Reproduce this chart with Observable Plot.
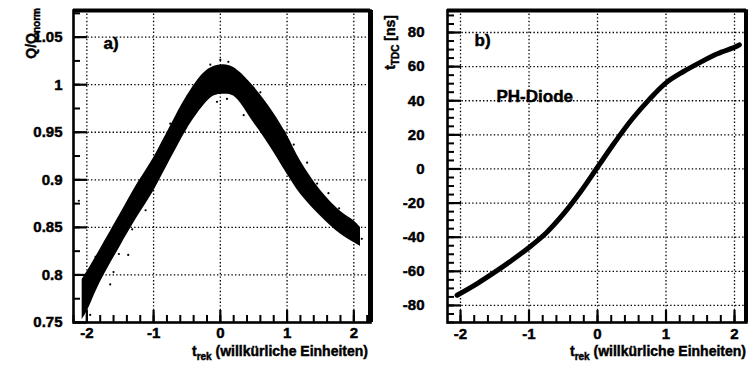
<!DOCTYPE html>
<html>
<head>
<meta charset="utf-8">
<script src="https://cdn.jsdelivr.net/npm/d3@7"></script>
<script src="https://cdn.jsdelivr.net/npm/@observablehq/plot@0.6"></script>
<style>
  body { margin: 0; background: white; }
  #wrap { display: flex; width: 748px; height: 369px; }
  svg { display: block; }
  svg text { stroke: black; stroke-width: 0.45px; }
</style>
</head>
<body>
<div id="wrap"></div>
<script>
// ---------- data: panel a) band of measured points (envelope read from picture)
const bandT     = [-2.07, -2.0, -1.8, -1.5, -1.25, -1.0, -0.75, -0.5, -0.25, -0.1, 0.05, 0.2, 0.5, 0.8, 1.0, 1.2, 1.5, 1.8, 2.0, 2.1];
const bandUpper = [0.795, 0.803, 0.827, 0.864, 0.895, 0.923, 0.956, 0.988, 1.012, 1.019, 1.021, 1.018, 0.998, 0.970, 0.947, 0.920, 0.889, 0.867, 0.857, 0.850];
const bandLower = [0.753, 0.761, 0.792, 0.830, 0.860, 0.888, 0.921, 0.953, 0.978, 0.988, 0.990, 0.988, 0.960, 0.929, 0.906, 0.885, 0.862, 0.843, 0.834, 0.830];
// scattered stray points around the band
const strayT = [-1.87, -1.65, -1.95, -1.6, -1.38, -0.75, -2.12, 2.12, 0.0, 0.12, -0.15, 0.3, 0.1, -0.05, 0.95, 1.1, 1.3, 1.45, 1.62, 1.78, -0.42, -0.92, -1.12, -1.52, -1.32, 0.6, 0.35];
const strayQ = [0.819, 0.790, 0.758, 0.803, 0.821, 0.959, 0.878, 0.838, 1.026, 1.024, 1.021, 1.011, 0.985, 0.982, 0.951, 0.937, 0.918, 0.896, 0.886, 0.870, 0.993, 0.928, 0.868, 0.822, 0.848, 0.992, 0.968];

// ---------- data: panel b) PH-Diode curve
const curveT   = [-2.05, -1.75, -1.5, -1.25, -1.0, -0.75, -0.5, -0.25, 0.0, 0.25, 0.5, 0.75, 1.0, 1.25, 1.5, 1.75, 2.0, 2.07];
const curveTdc = [-74, -67, -60.5, -53.5, -46, -37.5, -26.5, -13.5, 1, 15.5, 29, 40.5, 50.5, 57, 62.5, 67.5, 71.3, 72.8];

// ---------- tick labels
const xTicks  = [-2, -1, 0, 1, 2];
const yTicksA = [0.75, 0.8, 0.85, 0.9, 0.95, 1, 1.05];
const yTicksB = [-80, -60, -40, -20, 0, 20, 40, 60, 80];
const xMinor  = d3.range(-11, 12).map(i => +(i * 0.2).toFixed(2));
const yMinorA = d3.range(30, 44).map(i => +(i * 0.025).toFixed(3));
const yMinorB = d3.range(-18, 19).map(i => i * 5);

const band = bandT.map((t, i) => ({t, lo: bandLower[i], hi: bandUpper[i]}));
const stray = strayT.map((t, i) => ({t, q: strayQ[i]}));
const curve = curveT.map((t, i) => ({t, v: curveTdc[i]}));

const FONT = "'Liberation Sans', Arial, Helvetica, sans-serif";
const gridStyle = {stroke: "black", strokeOpacity: 1, strokeWidth: 1.3, strokeDasharray: "1.4,2.2"};
const H = 369, MT = 10, MB = 47, ML = 73;

function inwardTicks(xDom, yDom, plotW, xMaj, xMin, yMaj, yMin) {
  const plotH = H - MT - MB;
  const inX = v => v >= xDom[0] && v <= xDom[1];
  const inY = v => v >= yDom[0] && v <= yDom[1];
  return [
    Plot.tickX(xMin.filter(inX), {x: d => d, insetTop: plotH - 7, stroke: "black", strokeWidth: 2}),
    Plot.tickX(xMaj.filter(inX), {x: d => d, insetTop: plotH - 12, stroke: "black", strokeWidth: 2.2}),
    Plot.tickY(yMin.filter(inY), {y: d => d, insetRight: plotW - 7, stroke: "black", strokeWidth: 2}),
    Plot.tickY(yMaj.filter(inY), {y: d => d, insetRight: plotW - 14, stroke: "black", strokeWidth: 2.2})
  ];
}

function frameMarks(xDom, yDom) {
  return [
    Plot.frame({stroke: "black", strokeWidth: 2.6}),
    Plot.ruleY([yDom[1]], {stroke: "black", strokeWidth: 4}),
    Plot.ruleX([xDom[1]], {stroke: "black", strokeWidth: 5})
  ];
}

// ---------- panel a)
const xDomA = [-2.2, 2.25], yDomA = [0.75, 1.078];
const plotA = Plot.plot({
  width: 374, height: H,
  marginLeft: ML, marginRight: 4, marginTop: MT, marginBottom: MB,
  x: {domain: xDomA}, y: {domain: yDomA},
  style: {fontFamily: FONT, fontWeight: "bold", fontSize: "14px", color: "black", background: "white"},
  marks: [
    Plot.gridX(xTicks, gridStyle),
    Plot.gridY(yTicksA.filter(v => v > 0.75), gridStyle),
    Plot.areaY(band, {x: "t", y1: "lo", y2: "hi", fill: "black", curve: "catmull-rom"}),
    Plot.dot(stray, {x: "t", y: "q", r: 1.1, fill: "black"}),
    ...inwardTicks(xDomA, yDomA, 374 - ML - 4, xTicks, xMinor, yTicksA, yMinorA),
    Plot.axisX(xTicks, {tickSize: 0, tickPadding: 5, tickFormat: d => String(d), fontSize: 15, label: null}),
    Plot.axisY(yTicksA, {tickSize: 0, tickPadding: 11, tickFormat: d => String(d), fontSize: 15, label: null}),
    ...frameMarks(xDomA, yDomA),
    Plot.text(["a)"], {frameAnchor: "top-left", dx: 30, dy: 33, textAnchor: "start", lineAnchor: "middle", fontSize: 17, fontWeight: "bold"})
  ]
});

// ---------- panel b)
const xDomB = [-2.19, 2.175], yDomB = [-90, 92.9];
const plotB = Plot.plot({
  width: 374, height: H,
  marginLeft: ML, marginRight: 2, marginTop: MT, marginBottom: MB,
  x: {domain: xDomB}, y: {domain: yDomB},
  style: {fontFamily: FONT, fontWeight: "bold", fontSize: "14px", color: "black", background: "white"},
  marks: [
    Plot.gridX(xTicks, gridStyle),
    Plot.gridY(yTicksB, gridStyle),
    Plot.line(curve, {x: "t", y: "v", stroke: "black", strokeWidth: 5, curve: "catmull-rom", strokeLinecap: "round"}),
    ...inwardTicks(xDomB, yDomB, 374 - ML - 2, xTicks, xMinor, yTicksB, yMinorB),
    Plot.axisX(xTicks, {tickSize: 0, tickPadding: 6, tickFormat: d => String(d), fontSize: 15, label: null}),
    Plot.axisY(yTicksB, {tickSize: 0, tickPadding: 23, tickFormat: d => String(d), fontSize: 15, label: null}),
    ...frameMarks(xDomB, yDomB),
    Plot.text(["b)"], {frameAnchor: "top-left", dx: 27, dy: 30, textAnchor: "start", lineAnchor: "middle", fontSize: 17, fontWeight: "bold"}),
    Plot.text(["PH-Diode"], {frameAnchor: "top-left", dx: 49, dy: 86, textAnchor: "start", lineAnchor: "middle", fontSize: 17, fontWeight: "bold"})
  ]
});

const wrap = document.getElementById("wrap");
wrap.appendChild(plotA);
wrap.appendChild(plotB);

// ---------- axis titles with subscripts
function addText(svg, {x, y, rotate = 0, main, sub, rest = ""}) {
  const t = d3.select(svg).append("text")
    .attr("transform", `translate(${x},${y}) rotate(${rotate})`)
    .attr("text-anchor", "end")
    .attr("font-family", FONT).attr("font-weight", "bold").attr("font-size", 14)
    .attr("fill", "black");
  t.append("tspan").text(main);
  t.append("tspan").attr("font-size", 10).attr("dy", 4).text(sub);
  if (rest) t.append("tspan").attr("dy", -4).text(rest);
}
addText(plotA, {x: 368, y: 356, main: "t", sub: "rek", rest: " (willkürliche Einheiten)"});
addText(plotB, {x: 372, y: 356, main: "t", sub: "rek", rest: " (willkürliche Einheiten)"});
addText(plotA, {x: 36, y: 8, rotate: -90, main: "Q/Q", sub: "norm"});
addText(plotB, {x: 21, y: 15, rotate: -90, main: "t", sub: "TDC", rest: " [ns]"});
</script>
</body>
</html>
